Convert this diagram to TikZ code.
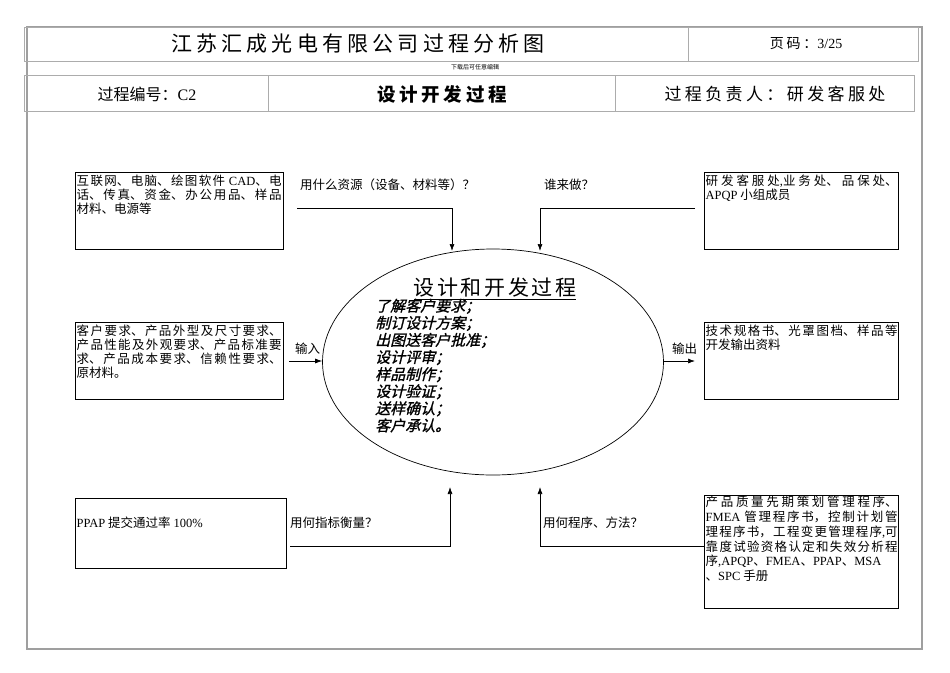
\documentclass[tikz,border=0pt]{standalone}
\usepackage{fontspec}
\usetikzlibrary{shapes.geometric,arrows.meta}
\setmainfont{Noto Sans CJK SC}
\newfontfamily\lat{Liberation Serif}
\newfontfamily\cjkls[LetterSpace=20]{Noto Sans CJK SC}
\newfontfamily\cjkmid[LetterSpace=12]{Noto Sans CJK SC}
\newfontfamily\cjkit[FakeSlant=0.25,FakeBold=1.2]{Noto Sans CJK SC}
\newcommand\E[1]{{\lat #1}}
\XeTeXlinebreaklocale "zh"
\XeTeXlinebreakskip = 0pt plus 2pt
\begin{document}
\begin{tikzpicture}[x=1pt,y=-1pt,
  box/.style={draw, line width=0.7pt, anchor=north west, inner sep=0pt, outer sep=0pt},
  btxt/.style={anchor=north west, inner sep=0pt, text width=#1, align=justify, font=\fontsize{12.5}{14}\selectfont},
  lbl/.style={font=\fontsize{12.5}{14}\selectfont, inner sep=0pt, anchor=west},
  arr/.style={line width=0.7pt, -{Latex[length=7pt,width=5pt]}},
  frame/.style={draw=gray!75, line width=1.6pt},
  hbox/.style={draw=gray!65, line width=0.9pt},
  htxt/.style={inner sep=0pt}]
\useasboundingbox (0,0) rectangle (950,672);
% outer frame
\draw[frame] (27,27) rectangle (922,649);
% header row 1
\draw[hbox] (24,27) rectangle (918,61);
\draw[hbox] (688,27) -- (688,61);
\node[htxt, font=\cjkls\fontsize{21}{21}\selectfont] (t1) at (358,44) {江苏汇成光电有限公司过程分析图};
\node[htxt, font=\cjkls\fontsize{14}{14}\selectfont] (t2) at (806,44) {页码：\E{3/25}};
\node[htxt, font=\fontsize{6}{6}\selectfont] (t3) at (475,67) {下载后可任意编辑};
% header row 2
\draw[hbox] (24,75) rectangle (914,111);
\draw[hbox] (268,75) -- (268,111);
\draw[hbox] (615,75) -- (615,111);
\node[htxt, font=\fontsize{16}{16}\selectfont] (t4) at (147,94) {过程编号：\E{C2}};
\node[htxt, font=\cjkls\bfseries\fontsize{18.5}{18.5}\selectfont] (t5) at (442,94) {设计开发过程};
\node[htxt, font=\cjkls\fontsize{17}{17}\selectfont] (t6) at (775,94) {过程负责人：研发客服处};
% boxes
\node[box, minimum width=208pt, minimum height=77pt] (tl) at (75,172) {};
\node[box, minimum width=194pt, minimum height=77pt] (tr) at (704,172) {};
\node[box, minimum width=208pt, minimum height=77pt] (ml) at (75,322) {};
\node[box, minimum width=194pt, minimum height=77pt] (mr) at (704,322) {};
\node[box, minimum width=211pt, minimum height=70pt] (bl) at (75,498) {};
\node[box, minimum width=194pt, minimum height=113pt] (br) at (704,495) {};
% box texts
\node[btxt=205pt] (tlt) at (76.5,175) {互联网、电脑、绘图软件 \E{CAD}、电\linebreak 话、传真、资金、办公用品、样品\linebreak 材料、电源等};
\node[btxt=192pt] (trt) at (705.5,175) {研发客服处\E{,}业务处、品保处、\linebreak \E{APQP} 小组成员};
\node[btxt=205pt] (mlt) at (76.5,325) {客户要求、产品外型及尺寸要求、\linebreak 产品性能及外观要求、产品标准要\linebreak 求、产品成本要求、信赖性要求、\linebreak 原材料。};
\node[btxt=192pt] (mrt) at (705.5,325) {技术规格书、光罩图档、样品等\linebreak 开发输出资料};
\node[lbl] (blt) at (76.5,523) {\E{PPAP} 提交通过率 \E{100\%}};
\node[btxt=192pt, font=\fontsize{12.5}{14.8}\selectfont] (brt) at (705.5,496) {产品质量先期策划管理程序、\linebreak \E{FMEA} 管理程序书，控制计划管\linebreak 理程序书，工程变更管理程序\E{,}可\linebreak 靠度试验资格认定和失效分析程\linebreak 序\E{,APQP}、\E{FMEA}、\E{PPAP}、\E{MSA}\linebreak 、\E{SPC} 手册};
% ellipse
\node[draw, ellipse, line width=0.7pt, minimum width=341pt, minimum height=226pt, inner sep=0pt] (e) at (493,362) {};
\node[htxt, font=\cjkmid\fontsize{21}{21}\selectfont] (et) at (495,289) {\underline{设计和开发过程}};
\node[anchor=north west, inner sep=0pt, align=left, font=\cjkit\fontsize{15}{17.1}\selectfont] (el) at (375,298.5) {了解客户要求；\\制订设计方案；\\出图送客户批准；\\设计评审；\\样品制作；\\设计验证；\\送样确认；\\客户承认。};
% connectors
\coordinate (a1) at (297,208);
\coordinate (a2) at (452,251);
\draw[arr] (a1) -| (a2);
\node[lbl] (al) at (300,185) {用什么资源（设备、材料等）？};
\coordinate (b1) at (695,208);
\coordinate (b2) at (540,251);
\draw[arr] (b1) -| (b2);
\node[lbl] (bl2) at (544,185) {谁来做？};
\coordinate (in1) at (289,361);
\draw[arr] (in1) -- (in1 -| e.west);
\node[lbl] (il) at (295,349) {输入};
\coordinate (out2) at (695,361);
\draw[arr] (out2 -| e.east) -- (out2);
\node[lbl] (ol) at (672,349) {输出};
\coordinate (c1) at (290,546);
\coordinate (c2) at (450,487);
\draw[arr] (c1) -| (c2);
\node[lbl] (cl) at (290,523) {用何指标衡量？};
\coordinate (d2) at (540,487);
\draw[arr] (br.west |- c1) -| (d2);
\node[lbl] (dl) at (543,523) {用何程序、方法？};
\end{tikzpicture}
\end{document}
